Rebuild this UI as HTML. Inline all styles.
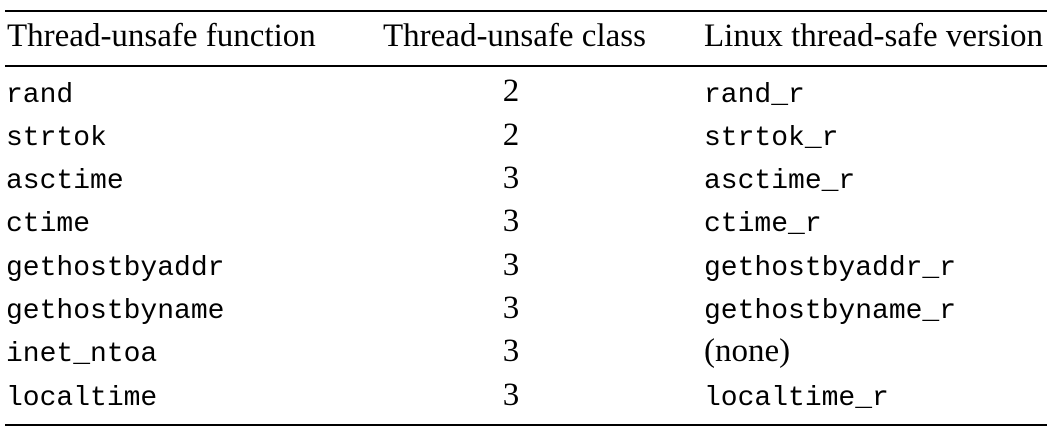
<!DOCTYPE html>
<html><head><meta charset="utf-8"><style>
html,body{margin:0;padding:0;background:#fff;}
#t{position:relative;width:1055px;height:432px;overflow:hidden;color:#000;}
.r{position:absolute;left:5px;width:1042px;background:#000;}
.h{position:absolute;font-family:"Liberation Serif",serif;font-size:33px;line-height:33px;white-space:nowrap;}
.m{position:absolute;font-family:"Liberation Mono",monospace;font-size:28px;line-height:28px;white-space:nowrap;}
.n{position:absolute;font-family:"Liberation Serif",serif;font-size:33px;line-height:33px;width:60px;text-align:center;left:481px;}
</style></head><body>
<div id="t">
<div class="r" style="top:10px;height:2px"></div>
<div class="r" style="top:65px;height:2px"></div>
<div class="r" style="top:424px;height:2px"></div>
<div class="h" style="left:7px;top:20px">Thread-unsafe function</div>
<div class="h" style="left:383px;top:20px">Thread-unsafe class</div>
<div class="h" style="left:704px;top:20px">Linux thread-safe version</div>
</div>
<script>
const funcs=["rand","strtok","asctime","ctime","gethostbyaddr","gethostbyname","inet_ntoa","localtime"];
const classes=["2","2","3","3","3","3","3","3"];
const versions=["rand_r","strtok_r","asctime_r","ctime_r","gethostbyaddr_r","gethostbyname_r","(none)","localtime_r"];
const t=document.getElementById('t');
funcs.forEach((f,i)=>{
  const base=103+i*43.3;
  const a=document.createElement('div');a.className='m';a.style.left='6px';a.style.top=(base-21.5)+'px';a.textContent=f;
  
  
  t.appendChild(a);
  const b=document.createElement('div');b.className='n';b.style.top=(base-27.6)+'px';b.textContent=classes[i];
  
  
  t.appendChild(b);
  const v=versions[i];
  const c=document.createElement('div');
  if(v==='(none)'){c.className='h';c.style.top=(base-27.6)+'px';}else{c.className='m';c.style.top=(base-21.5)+'px';}
  c.style.left='704px';c.textContent=v;
  
  
  t.appendChild(c);
});
</script>
</body></html>
